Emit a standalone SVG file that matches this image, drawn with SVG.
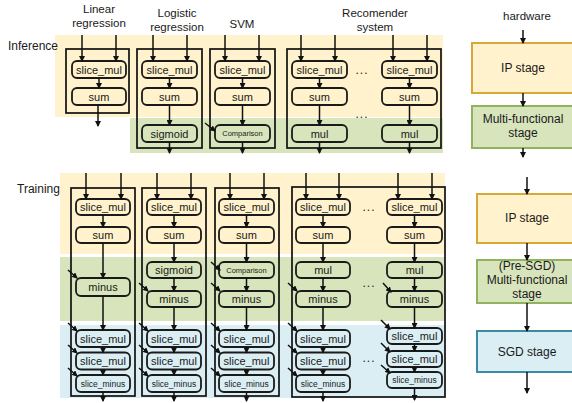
<svg xmlns="http://www.w3.org/2000/svg" width="572" height="403" viewBox="0 0 572 403">
  <style>
    text { font-family: "Liberation Sans", Arial, sans-serif; fill: #1a1a1a; }
    .lbl { font-size: 11.5px; text-anchor: middle; }
    .side { font-size: 12px; }
    .nt { font-size: 11px; text-anchor: middle; }
    .nts { font-size: 7.5px; text-anchor: middle; }
    .ntm { font-size: 8.5px; text-anchor: middle; }
    .node { fill: none; stroke: #1a1a1a; stroke-width: 1.8; }
    .algo { fill: none; stroke: #111; stroke-width: 1.7; }
    .edge { stroke: #111; stroke-width: 1.5; fill: none; marker-end: url(#ah); }
    .dots { font-size: 12px; text-anchor: middle; letter-spacing: 1px; }
    .hw { font-size: 12px; text-anchor: middle; }
  </style>
  <defs>
    <marker id="ah" markerWidth="6" markerHeight="6" refX="5" refY="3" orient="auto" markerUnits="userSpaceOnUse">
      <path d="M0,0 L6,3 L0,6 z" fill="#111"/>
    </marker>
  </defs>

  <!-- stage bands -->
  <g id="bands">
    <rect x="55" y="35" width="388" height="82" fill="#FFF2CC"/>
    <rect x="130" y="118" width="313" height="35" fill="#D8E4BC"/>
    <rect x="60" y="173" width="385" height="81" fill="#FFF2CC"/>
    <rect x="60" y="257" width="385" height="64" fill="#D8E4BC"/>
    <rect x="60" y="325" width="385" height="73" fill="#DAEEF3"/>
  </g>

  <!-- titles -->
  <g id="titles">
    <text class="lbl" x="99" y="12.5">Linear</text>
    <text class="lbl" x="99" y="26.5">regression</text>
    <text class="lbl" x="177" y="16.5">Logistic</text>
    <text class="lbl" x="177" y="30.5">regression</text>
    <text class="lbl" x="242" y="28">SVM</text>
    <text class="lbl" x="375" y="16.5">Recomender</text>
    <text class="lbl" x="375" y="30.5">system</text>
    <text class="lbl" x="527" y="20">hardware</text>
    <text class="side" x="8" y="50">Inference</text>
    <text class="side" x="17" y="193">Training</text>
  </g>

  <!-- inference: linear regression -->
  <g id="inf-linear">
    <rect class="algo" x="66" y="49" width="63" height="64"/>
    <rect class="node" x="72" y="61" width="54" height="17" rx="5"/>
    <text class="nt" x="99" y="73.5">slice_mul</text>
    <rect class="node" x="72" y="88" width="54" height="17" rx="5"/>
    <text class="nt" x="99" y="100.5">sum</text>
  </g>
  <!-- inference: logistic regression -->
  <g id="inf-logistic">
    <rect class="algo" x="137" y="49" width="65" height="99"/>
    <rect class="node" x="142" y="61" width="55" height="17" rx="5"/>
    <text class="nt" x="169.5" y="73.5">slice_mul</text>
    <rect class="node" x="142" y="88" width="55" height="17" rx="5"/>
    <text class="nt" x="169.5" y="100.5">sum</text>
    <rect class="node" x="142" y="125" width="55" height="17" rx="5"/>
    <text class="nt" x="169.5" y="137.5">sigmoid</text>
  </g>
  <!-- inference: SVM -->
  <g id="inf-svm">
    <rect class="algo" x="210" y="49" width="65" height="99"/>
    <rect class="node" x="215" y="61" width="55" height="17" rx="5"/>
    <text class="nt" x="242.5" y="73.5">slice_mul</text>
    <rect class="node" x="215" y="88" width="55" height="17" rx="5"/>
    <text class="nt" x="242.5" y="100.5">sum</text>
    <rect class="node" x="215" y="125" width="55" height="17" rx="5"/>
    <text class="nts" x="242.5" y="136">Comparison</text>
  </g>
  <!-- inference: recommender system -->
  <g id="inf-recommender">
    <rect class="algo" x="287" y="49" width="154" height="99"/>
    <rect class="node" x="292" y="61" width="55" height="17" rx="5"/>
    <text class="nt" x="319.5" y="73.5">slice_mul</text>
    <rect class="node" x="292" y="88" width="55" height="17" rx="5"/>
    <text class="nt" x="319.5" y="100.5">sum</text>
    <rect class="node" x="292" y="125" width="55" height="17" rx="5"/>
    <text class="nt" x="319.5" y="137.5">mul</text>
    <rect class="node" x="382" y="61" width="55" height="17" rx="5"/>
    <text class="nt" x="409.5" y="73.5">slice_mul</text>
    <rect class="node" x="382" y="88" width="55" height="17" rx="5"/>
    <text class="nt" x="409.5" y="100.5">sum</text>
    <rect class="node" x="382" y="125" width="55" height="17" rx="5"/>
    <text class="nt" x="409.5" y="137.5">mul</text>
    <text class="dots" x="362" y="74">...</text>
    <text class="dots" x="362" y="118">...</text>
  </g>

  <!-- training: linear regression -->
  <g id="train-linear">
    <rect class="algo" x="71" y="188" width="64" height="208"/>
    <rect class="node" x="76" y="199" width="54" height="16" rx="5"/>
    <text class="nt" x="103" y="211">slice_mul</text>
    <rect class="node" x="76" y="227" width="54" height="16" rx="5"/>
    <text class="nt" x="103" y="239">sum</text>
    <rect class="node" x="76" y="278" width="54" height="18" rx="5"/>
    <text class="nt" x="103" y="291">minus</text>
    <rect class="node" x="76" y="330" width="54" height="17" rx="5"/>
    <text class="nt" x="103" y="342.5">slice_mul</text>
    <rect class="node" x="76" y="352.5" width="54" height="17" rx="5"/>
    <text class="nt" x="103" y="365">slice_mul</text>
    <rect class="node" x="76" y="375" width="54" height="17" rx="5"/>
    <text class="ntm" x="103" y="386.5">slice_minus</text>
  </g>
  <!-- training: logistic regression -->
  <g id="train-logistic">
    <rect class="algo" x="142" y="188" width="64" height="208"/>
    <rect class="node" x="147" y="199" width="54" height="16" rx="5"/>
    <text class="nt" x="174" y="211">slice_mul</text>
    <rect class="node" x="147" y="227" width="54" height="16" rx="5"/>
    <text class="nt" x="174" y="239">sum</text>
    <rect class="node" x="147" y="262" width="54" height="16" rx="5"/>
    <text class="nt" x="174" y="274">sigmoid</text>
    <rect class="node" x="147" y="291" width="54" height="16" rx="5"/>
    <text class="nt" x="174" y="303">minus</text>
    <rect class="node" x="147" y="330" width="54" height="17" rx="5"/>
    <text class="nt" x="174" y="342.5">slice_mul</text>
    <rect class="node" x="147" y="352.5" width="54" height="17" rx="5"/>
    <text class="nt" x="174" y="365">slice_mul</text>
    <rect class="node" x="147" y="375" width="54" height="17" rx="5"/>
    <text class="ntm" x="174" y="386.5">slice_minus</text>
  </g>
  <!-- training: SVM -->
  <g id="train-svm">
    <rect class="algo" x="215" y="188" width="64" height="208"/>
    <rect class="node" x="219" y="199" width="55" height="16" rx="5"/>
    <text class="nt" x="246.5" y="211">slice_mul</text>
    <rect class="node" x="219" y="227" width="55" height="16" rx="5"/>
    <text class="nt" x="246.5" y="239">sum</text>
    <rect class="node" x="219" y="262" width="55" height="16" rx="5"/>
    <text class="nts" x="246.5" y="272.5">Comparison</text>
    <rect class="node" x="219" y="291" width="55" height="16" rx="5"/>
    <text class="nt" x="246.5" y="303">minus</text>
    <rect class="node" x="219" y="330" width="55" height="17" rx="5"/>
    <text class="nt" x="246.5" y="342.5">slice_mul</text>
    <rect class="node" x="219" y="352.5" width="55" height="17" rx="5"/>
    <text class="nt" x="246.5" y="365">slice_mul</text>
    <rect class="node" x="219" y="375" width="55" height="17" rx="5"/>
    <text class="ntm" x="246.5" y="386.5">slice_minus</text>
  </g>
  <!-- training: recommender system -->
  <g id="train-recommender">
    <rect class="algo" x="292" y="187" width="153" height="210"/>
    <rect class="node" x="296" y="199" width="54" height="16" rx="5"/>
    <text class="nt" x="323" y="211">slice_mul</text>
    <rect class="node" x="296" y="227" width="54" height="16" rx="5"/>
    <text class="nt" x="323" y="239">sum</text>
    <rect class="node" x="296" y="262" width="54" height="16" rx="5"/>
    <text class="nt" x="323" y="274">mul</text>
    <rect class="node" x="296" y="291" width="54" height="16" rx="5"/>
    <text class="nt" x="323" y="303">minus</text>
    <rect class="node" x="296" y="330" width="54" height="17" rx="5"/>
    <text class="nt" x="323" y="342.5">slice_mul</text>
    <rect class="node" x="296" y="352.5" width="54" height="17" rx="5"/>
    <text class="nt" x="323" y="365">slice_mul</text>
    <rect class="node" x="296" y="375" width="54" height="17" rx="5"/>
    <text class="ntm" x="323" y="386.5">slice_minus</text>

    <rect class="node" x="387" y="199" width="55" height="16" rx="5"/>
    <text class="nt" x="414.5" y="211">slice_mul</text>
    <rect class="node" x="387" y="227" width="55" height="16" rx="5"/>
    <text class="nt" x="414.5" y="239">sum</text>
    <rect class="node" x="387" y="262" width="55" height="16" rx="5"/>
    <text class="nt" x="414.5" y="274">mul</text>
    <rect class="node" x="387" y="291" width="55" height="16" rx="5"/>
    <text class="nt" x="414.5" y="303">minus</text>
    <rect class="node" x="387" y="328" width="55" height="16" rx="5"/>
    <text class="nt" x="414.5" y="340">slice_mul</text>
    <rect class="node" x="387" y="351" width="55" height="16" rx="5"/>
    <text class="nt" x="414.5" y="363">slice_mul</text>
    <rect class="node" x="387" y="372" width="55" height="16" rx="5"/>
    <text class="ntm" x="414.5" y="383">slice_minus</text>

    <text class="dots" x="369" y="211">...</text>
    <text class="dots" x="369" y="287">...</text>
    <text class="dots" x="369" y="362">...</text>
  </g>

  <!-- hardware stages -->
  <g id="hw-inf-ip">
    <rect x="472" y="43" width="104" height="50" fill="#FFF2CC" stroke="#D6A93A" stroke-width="2"/>
    <text class="hw" x="523" y="72">IP stage</text>
  </g>
  <g id="hw-inf-multi">
    <rect x="472" y="106" width="104" height="42" fill="#D8E4BC" stroke="#8FB35E" stroke-width="2"/>
    <text class="hw" x="523" y="123">Multi-functional</text>
    <text class="hw" x="523" y="137">stage</text>
  </g>
  <g id="hw-train-ip">
    <rect x="477" y="194" width="102" height="49" fill="#FFF2CC" stroke="#D6A93A" stroke-width="2"/>
    <text class="hw" x="527" y="222">IP stage</text>
  </g>
  <g id="hw-train-multi">
    <rect x="477" y="260" width="102" height="43" fill="#D8E4BC" stroke="#8FB35E" stroke-width="2"/>
    <text class="hw" x="527" y="270">(Pre-SGD)</text>
    <text class="hw" x="527" y="284">Multi-functional</text>
    <text class="hw" x="527" y="298">stage</text>
  </g>
  <g id="hw-train-sgd">
    <rect x="477" y="331" width="102" height="41" fill="#DAEEF3" stroke="#3A8CA3" stroke-width="2"/>
    <text class="hw" x="527" y="356">SGD stage</text>
  </g>

  <!-- connectors -->
  <g id="connectors">
    <!-- inference linear -->
    <path class="edge" d="M82,35 V61"/>
    <path class="edge" d="M116,35 V61"/>
    <path class="edge" d="M99,78 V88"/>
    <path class="edge" d="M98,105 V126"/>
    <!-- inference logistic -->
    <path class="edge" d="M153,35 V61"/>
    <path class="edge" d="M187,35 V61"/>
    <path class="edge" d="M169.5,78 V88"/>
    <path class="edge" d="M169.5,105 V125"/>
    <path class="edge" d="M169.5,142 V153"/>
    <!-- inference SVM -->
    <path class="edge" d="M225,35 V61"/>
    <path class="edge" d="M259,35 V61"/>
    <path class="edge" d="M242.5,78 V88"/>
    <path class="edge" d="M242.5,105 V125"/>
    <path class="edge" d="M242.5,142 V153"/>
    <path class="edge" d="M205,123 L215,131"/>
    <!-- inference recommender -->
    <path class="edge" d="M301,35 V61"/>
    <path class="edge" d="M335,35 V61"/>
    <path class="edge" d="M319.5,78 V88"/>
    <path class="edge" d="M319.5,105 V125"/>
    <path class="edge" d="M319.5,142 V153"/>
    <path class="edge" d="M393,35 V61"/>
    <path class="edge" d="M427,35 V61"/>
    <path class="edge" d="M409.5,78 V88"/>
    <path class="edge" d="M409.5,105 V125"/>
    <path class="edge" d="M409.5,142 V153"/>

    <!-- training linear -->
    <path class="edge" d="M86,173 V199"/>
    <path class="edge" d="M121,173 V199"/>
    <path class="edge" d="M103,215 V227"/>
    <path class="edge" d="M103,243 V278"/>
    <path class="edge" d="M103,296 V330"/>
    <path class="edge" d="M103,347 V352.5"/>
    <path class="edge" d="M103,369.5 V375"/>
    <path class="edge" d="M103,392 V401"/>
    <path class="edge" d="M68,270 L77,278"/>
    <path class="edge" d="M68,323 L77,331"/>
    <path class="edge" d="M68,345 L77,353"/>
    <path class="edge" d="M68,368 L77,376"/>
    <!-- training logistic -->
    <path class="edge" d="M157,173 V199"/>
    <path class="edge" d="M191,173 V199"/>
    <path class="edge" d="M174,215 V227"/>
    <path class="edge" d="M174,243 V262"/>
    <path class="edge" d="M174,278 V291"/>
    <path class="edge" d="M174,307 V330"/>
    <path class="edge" d="M174,347 V352.5"/>
    <path class="edge" d="M174,369.5 V375"/>
    <path class="edge" d="M174,392 V401"/>
    <path class="edge" d="M139,283 L148,291"/>
    <path class="edge" d="M139,323 L148,331"/>
    <path class="edge" d="M139,345 L148,353"/>
    <path class="edge" d="M139,368 L148,376"/>
    <!-- training SVM -->
    <path class="edge" d="M230,173 V199"/>
    <path class="edge" d="M264,173 V199"/>
    <path class="edge" d="M246.5,215 V227"/>
    <path class="edge" d="M246.5,243 V262"/>
    <path class="edge" d="M246.5,278 V291"/>
    <path class="edge" d="M246.5,307 V330"/>
    <path class="edge" d="M246.5,347 V352.5"/>
    <path class="edge" d="M246.5,369.5 V375"/>
    <path class="edge" d="M246.5,392 V401"/>
    <path class="edge" d="M211,262 L220,270"/>
    <path class="edge" d="M211,283 L220,291"/>
    <path class="edge" d="M211,323 L220,331"/>
    <path class="edge" d="M211,345 L220,353"/>
    <path class="edge" d="M211,368 L220,376"/>
    <!-- training recommender, left column -->
    <path class="edge" d="M306,173 V199"/>
    <path class="edge" d="M339,173 V199"/>
    <path class="edge" d="M323,215 V227"/>
    <path class="edge" d="M323,243 V262"/>
    <path class="edge" d="M323,278 V291"/>
    <path class="edge" d="M323,307 V330"/>
    <path class="edge" d="M323,347 V352.5"/>
    <path class="edge" d="M323,369.5 V375"/>
    <path class="edge" d="M323,392 V401"/>
    <path class="edge" d="M288,283 L297,291"/>
    <path class="edge" d="M288,323 L297,331"/>
    <path class="edge" d="M288,345 L297,353"/>
    <path class="edge" d="M288,368 L297,376"/>
    <!-- training recommender, right column -->
    <path class="edge" d="M398,173 V199"/>
    <path class="edge" d="M432,173 V199"/>
    <path class="edge" d="M414.5,215 V227"/>
    <path class="edge" d="M414.5,243 V262"/>
    <path class="edge" d="M414.5,278 V291"/>
    <path class="edge" d="M414.5,307 V328"/>
    <path class="edge" d="M414.5,344 V351"/>
    <path class="edge" d="M414.5,367 V372"/>
    <path class="edge" d="M414.5,388 V400"/>
    <path class="edge" d="M383,283 L391,292"/>
    <path class="edge" d="M381,320 L390,329"/>
    <path class="edge" d="M381,343 L390,352"/>
    <path class="edge" d="M381,365 L390,373"/>

    <!-- hardware -->
    <path class="edge" d="M523,30 V43"/>
    <path class="edge" d="M523,93 V106"/>
    <path class="edge" d="M523,148 V157"/>
    <path class="edge" d="M527,177 V194"/>
    <path class="edge" d="M527,243 V260"/>
    <path class="edge" d="M527,303 V331"/>
    <path class="edge" d="M527,372 V393"/>
  </g>
</svg>
